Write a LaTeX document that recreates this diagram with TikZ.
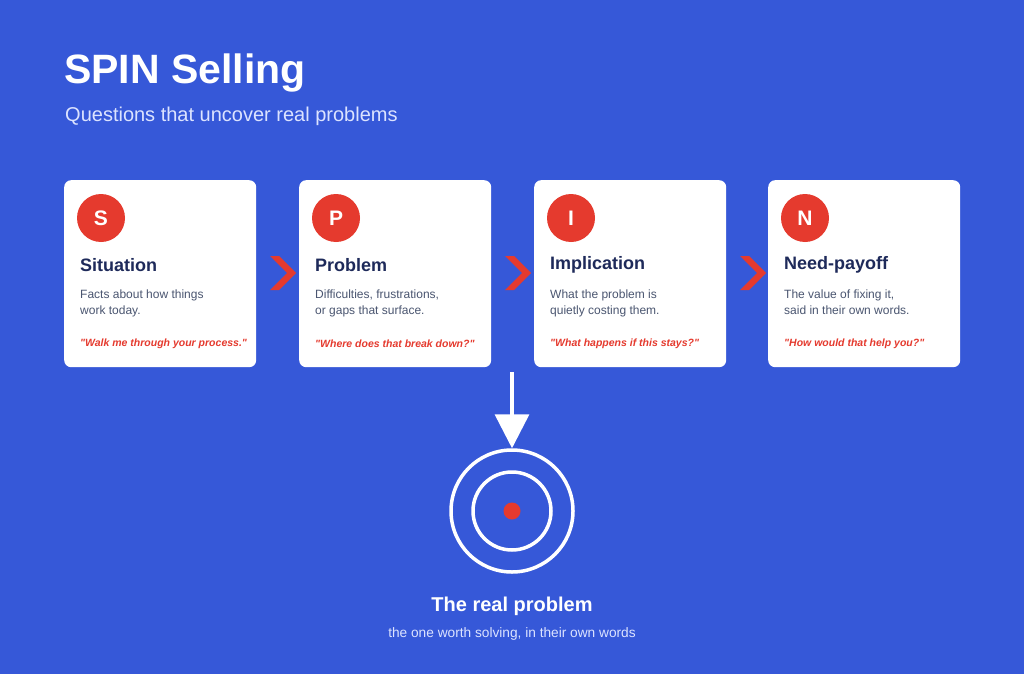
\documentclass[tikz,border=0pt]{standalone}
\usepackage{fontspec}
\setmainfont{Liberation Sans}
\newfontfamily\plainsans{Liberation Sans}
\usetikzlibrary{positioning,arrows.meta}
\definecolor{bgblue}{HTML}{3658D8}
\definecolor{spinred}{HTML}{E53A2E}
\definecolor{navy}{HTML}{1E2A5A}
\definecolor{slate}{HTML}{4A5570}
\definecolor{paleblue}{HTML}{DCE3FF}
\tikzset{
  card/.style={fill=white, rounded corners=7pt, minimum width=192pt, minimum height=187pt, inner sep=0pt},
  letter/.style={circle, fill=spinred, minimum size=48pt, inner sep=0pt, text=white, font=\fontsize{21}{21}\selectfont\bfseries},
  stage/.style={anchor=west, inner sep=0pt, text=navy, font=\fontsize{18}{18}\selectfont\bfseries},
  blurb/.style={anchor=north west, inner sep=0pt, text=slate, align=left, font=\fontsize{12}{16}\selectfont},
  quote/.style={anchor=west, inner sep=0pt, text=spinred, font=\plainsans\fontsize{10.5}{12}\selectfont\bfseries\itshape},
  chevron/.style={fill=spinred},
  ring/.style={draw=white, line width=3.5pt}
}
\begin{document}
\begin{tikzpicture}[x=1pt, y=-1pt]
  \fill[bgblue] (0,0) rectangle (1024,674);
  \useasboundingbox (0,0) rectangle (1024,674);

  % Heading
  \node[anchor=west, inner sep=0pt, text=white, font=\fontsize{41}{41}\selectfont\bfseries] (title) at (64,73) {SPIN Selling};
  \node[anchor=west, inner sep=0pt, text=paleblue, font=\fontsize{20}{20}\selectfont] (subtitle) at (65,116) {Questions that uncover real problems};

  % Cards
  \foreach \i/\x/\l/\name/\textA/\textB/\q in {
      1/64/S/Situation/Facts about how things/work today./Walk me through your process.,
      2/299/P/Problem/{Difficulties, frustrations,}/or gaps that surface./Where does that break down?,
      3/534/I/Implication/What the problem is/quietly costing them./What happens if this stays?,
      4/768/N/Need-payoff/{The value of fixing it,}/said in their own words./How would that help you?} {
    \node[card, anchor=north west] (card\i) at (\x,180) {};
    \node[letter] (letter\i) at (\x+37,218) {\l};
    \node[stage] (stage\i) at (\x+16,265) {\name};
    \node[blurb] (blurb\i) at (\x+16,290) {\textA\\\textB};
    \node[quote] (quote\i) at (\x+16,344) {"\q"};
  }

  % Chevrons between cards
  \foreach \x in {270,505,740} {
    \fill[chevron] (\x,256) -- (\x+9,256) -- (\x+26,273) -- (\x+9,290) -- (\x,290) -- (\x+17,273) -- cycle;
  }

  % Target
  \node[circle, ring, minimum size=122pt] (outer) at (512,511) {};
  \node[circle, ring, minimum size=78pt] (inner) at (outer.center) {};
  \node[circle, fill=spinred, minimum size=17pt, inner sep=0pt] (bullseye) at (outer.center) {};
  \coordinate (drop) at (512,372);
  \draw[white, line width=3.5pt, -{Triangle[width=34pt,length=34pt]}] (drop) -- (outer.north);

  \node[text=white, font=\fontsize{20}{20}\selectfont\bfseries] (goal) at (512,606) {The real problem};
  \node[text=paleblue, font=\fontsize{13.7}{14}\selectfont] (goalnote) at (512,634) {the one worth solving, in their own words};
\end{tikzpicture}
\end{document}
